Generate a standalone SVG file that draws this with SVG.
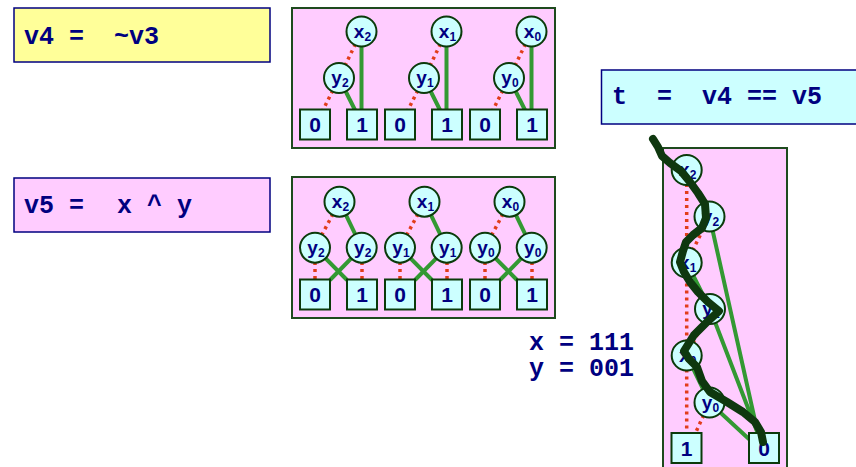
<svg xmlns="http://www.w3.org/2000/svg" width="856" height="467" viewBox="0 0 856 467">
<style>
.bg{fill:#ffffff}
.code{font-family:"Liberation Mono","Courier New",monospace;font-weight:bold;font-size:25px;fill:#000080}
.cbox{stroke:#000080;stroke-width:1.5}
.bdd{fill:#FFCCFF;stroke:#1e4a1e;stroke-width:2}
.n circle,.t rect{fill:#CCFFFF;stroke:#0b3a0b;stroke-width:2}
.lbl{font-family:"Liberation Sans",Arial,sans-serif;font-weight:bold;font-size:19px;fill:#000080;text-anchor:middle}
.sub{font-size:12px}
.tl{font-size:21px}
.hi{stroke:#339933;stroke-width:4;fill:none}
.lo{stroke:#e23c1a;stroke-width:3.5;stroke-dasharray:3 4;fill:none}
.path{stroke:#0f380f;stroke-width:8;fill:none;stroke-linejoin:round;stroke-linecap:round}
</style>
<rect class="bg" x="0" y="0" width="856" height="467"/>

<g id="code-v4">
<rect class="cbox" x="14" y="8" width="256" height="54" fill="#FFFF99"/>
<text class="code" x="24" y="44" xml:space="preserve">v4 =  ~v3</text>
</g>
<g id="code-v5">
<rect class="cbox" x="14" y="178" width="256" height="54" fill="#FFCCFF"/>
<text class="code" x="24" y="213">v5 =<tspan x="117">x ^ y</tspan></text>
</g>
<g id="code-t">
<rect class="cbox" x="601.5" y="70" width="262" height="54" fill="#CCFFFF"/>
<text class="code" x="612" y="104" xml:space="preserve">t  =  v4 == v5</text>
</g>
<g id="assign">
<text class="code" x="529" y="349.5" xml:space="preserve">x = 111</text>
<text class="code" x="529" y="376" xml:space="preserve">y = 001</text>
</g>

<!-- BDD backgrounds -->
<rect id="bdd-v4" class="bdd" x="292" y="8" width="263" height="140"/>
<rect id="bdd-v5" class="bdd" x="292" y="177" width="263" height="141"/>
<rect id="bdd-t" class="bdd" x="663" y="148" width="124" height="330"/>

<g id="connectors">
<!-- top BDD -->
<path class="lo" d="M361.5,31.5 L339,78 M446.5,31.5 L424,78 M531.5,31.5 L509,78"/>
<path class="hi" d="M361.5,31.5 L361.5,110 M446.5,31.5 L446.5,110 M531.5,31.5 L531.5,110"/>
<path class="hi" d="M339,78 L355,110 M424,78 L440,110 M509,78 L525,110"/>
<path class="lo" d="M339,78 L323,110 M424,78 L408,110 M509,78 L493,110"/>
<!-- middle BDD -->
<path class="lo" d="M339.5,201.7 L315,247.7 M424.5,201.7 L400,247.7 M509.5,201.7 L485,247.7"/>
<path class="hi" d="M339.5,201.7 L361.7,247.7 M424.5,201.7 L446.7,247.7 M509.5,201.7 L531.7,247.7"/>
<path class="lo" d="M315,262 L315,280 M400,262 L400,280 M485,262 L485,280"/>
<path class="lo" d="M362,262 L362,280 M447,262 L447,280 M532,262 L532,280"/>
<path class="hi" d="M315,247.7 L347,280 M400,247.7 L432,280 M485,247.7 L517,280"/>
<path class="hi" d="M361.7,247.7 L330,280 M446.7,247.7 L415,280 M531.7,247.7 L500,280"/>
<!-- right BDD -->
<path class="lo" d="M686.7,170 L686.7,262.5 M686.7,262.5 L686.7,355.5 M686.7,355.5 L686.7,434"/>
<path class="lo" d="M709.5,216.5 L686.7,262.5 M710,309 L686.7,355.5 M709.5,402.5 L695,434"/>
<path class="hi" d="M686.7,170 L709.5,216.5 M686.7,262.5 L710,309 M686.7,355.5 L709.5,402.5"/>
<path class="hi" d="M709.5,216.5 L758,434 M710,309 L758,434 M709.5,402.5 L750,440"/>
</g>

<!-- top BDD nodes -->
<g id="v4-x2" class="n"><circle cx="361.5" cy="31.5" r="15"/><text class="lbl" x="362.5" y="37.5">x<tspan class="sub" dy="3">2</tspan></text></g>
<g id="v4-y2" class="n"><circle cx="339" cy="78" r="15"/><text class="lbl" x="340" y="84">y<tspan class="sub" dy="3">2</tspan></text></g>
<g id="v4-x1" class="n"><circle cx="446.5" cy="31.5" r="15"/><text class="lbl" x="447.5" y="37.5">x<tspan class="sub" dy="3">1</tspan></text></g>
<g id="v4-y1" class="n"><circle cx="424" cy="78" r="15"/><text class="lbl" x="425" y="84">y<tspan class="sub" dy="3">1</tspan></text></g>
<g id="v4-x0" class="n"><circle cx="531.5" cy="31.5" r="15"/><text class="lbl" x="532.5" y="37.5">x<tspan class="sub" dy="3">0</tspan></text></g>
<g id="v4-y0" class="n"><circle cx="509" cy="78" r="15"/><text class="lbl" x="510" y="84">y<tspan class="sub" dy="3">0</tspan></text></g>
<g id="v4-t0a" class="t"><rect x="300" y="109.5" width="30" height="30"/><text class="lbl tl" x="315" y="132">0</text></g>
<g id="v4-t1a" class="t"><rect x="347" y="109.5" width="30" height="30"/><text class="lbl tl" x="362" y="132">1</text></g>
<g id="v4-t0b" class="t"><rect x="385" y="109.5" width="30" height="30"/><text class="lbl tl" x="400" y="132">0</text></g>
<g id="v4-t1b" class="t"><rect x="432" y="109.5" width="30" height="30"/><text class="lbl tl" x="447" y="132">1</text></g>
<g id="v4-t0c" class="t"><rect x="470" y="109.5" width="30" height="30"/><text class="lbl tl" x="485" y="132">0</text></g>
<g id="v4-t1c" class="t"><rect x="517" y="109.5" width="30" height="30"/><text class="lbl tl" x="532" y="132">1</text></g>

<!-- middle BDD nodes -->
<g id="v5-x2" class="n"><circle cx="339.5" cy="201.7" r="15"/><text class="lbl" x="340.5" y="207.7">x<tspan class="sub" dy="3">2</tspan></text></g>
<g id="v5-y2a" class="n"><circle cx="315" cy="247.7" r="15"/><text class="lbl" x="316" y="253.7">y<tspan class="sub" dy="3">2</tspan></text></g>
<g id="v5-y2b" class="n"><circle cx="361.7" cy="247.7" r="15"/><text class="lbl" x="362.7" y="253.7">y<tspan class="sub" dy="3">2</tspan></text></g>
<g id="v5-x1" class="n"><circle cx="424.5" cy="201.7" r="15"/><text class="lbl" x="425.5" y="207.7">x<tspan class="sub" dy="3">1</tspan></text></g>
<g id="v5-y1a" class="n"><circle cx="400" cy="247.7" r="15"/><text class="lbl" x="401" y="253.7">y<tspan class="sub" dy="3">1</tspan></text></g>
<g id="v5-y1b" class="n"><circle cx="446.7" cy="247.7" r="15"/><text class="lbl" x="447.7" y="253.7">y<tspan class="sub" dy="3">1</tspan></text></g>
<g id="v5-x0" class="n"><circle cx="509.5" cy="201.7" r="15"/><text class="lbl" x="510.5" y="207.7">x<tspan class="sub" dy="3">0</tspan></text></g>
<g id="v5-y0a" class="n"><circle cx="485" cy="247.7" r="15"/><text class="lbl" x="486" y="253.7">y<tspan class="sub" dy="3">0</tspan></text></g>
<g id="v5-y0b" class="n"><circle cx="531.7" cy="247.7" r="15"/><text class="lbl" x="532.7" y="253.7">y<tspan class="sub" dy="3">0</tspan></text></g>
<g id="v5-t0a" class="t"><rect x="300" y="279.5" width="30" height="30"/><text class="lbl tl" x="315" y="302">0</text></g>
<g id="v5-t1a" class="t"><rect x="347" y="279.5" width="30" height="30"/><text class="lbl tl" x="362" y="302">1</text></g>
<g id="v5-t0b" class="t"><rect x="385" y="279.5" width="30" height="30"/><text class="lbl tl" x="400" y="302">0</text></g>
<g id="v5-t1b" class="t"><rect x="432" y="279.5" width="30" height="30"/><text class="lbl tl" x="447" y="302">1</text></g>
<g id="v5-t0c" class="t"><rect x="470" y="279.5" width="30" height="30"/><text class="lbl tl" x="485" y="302">0</text></g>
<g id="v5-t1c" class="t"><rect x="517" y="279.5" width="30" height="30"/><text class="lbl tl" x="532" y="302">1</text></g>

<!-- right BDD nodes -->
<g id="t-x2" class="n"><circle cx="686.7" cy="170" r="15"/><text class="lbl" x="687.7" y="176">x<tspan class="sub" dy="3">2</tspan></text></g>
<g id="t-y2" class="n"><circle cx="709.5" cy="216.5" r="15"/><text class="lbl" x="710.5" y="222.5">y<tspan class="sub" dy="3">2</tspan></text></g>
<g id="t-x1" class="n"><circle cx="686.7" cy="262.5" r="15"/><text class="lbl" x="687.7" y="268.5">x<tspan class="sub" dy="3">1</tspan></text></g>
<g id="t-y1" class="n"><circle cx="710" cy="309" r="15"/><text class="lbl" x="711" y="315">y<tspan class="sub" dy="3">1</tspan></text></g>
<g id="t-x0" class="n"><circle cx="686.7" cy="355.5" r="15"/><text class="lbl" x="687.7" y="361.5">x<tspan class="sub" dy="3">0</tspan></text></g>
<g id="t-y0" class="n"><circle cx="709.5" cy="402.5" r="15"/><text class="lbl" x="710.5" y="408.5">y<tspan class="sub" dy="3">0</tspan></text></g>
<g id="t-t1" class="t"><rect x="671.5" y="433" width="30" height="30"/><text class="lbl tl" x="686.5" y="455.5">1</text></g>
<g id="t-t0" class="t"><rect x="749" y="433" width="30" height="30"/><text class="lbl tl" x="764" y="455.5">0</text></g>

<g id="highlight-path">
<polyline class="path" points="653,139 658,147 662,156 670,163 681,171 690,182 698,193 705,204 706,218 702,228 693,235 686,242 683,251 680,262 684,272 690,282 698,292 708,302 719,311 707,322 694,335 684,351 689,359 697,367 702,381 710,392 727,402 743,412 755,422 761,432 763,442"/>
</g>
</svg>
